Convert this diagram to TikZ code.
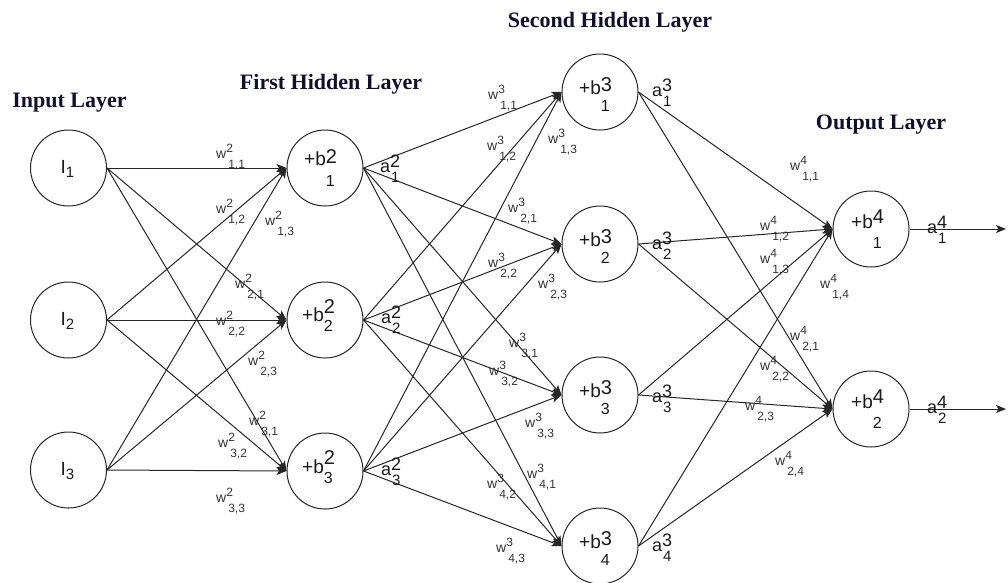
\documentclass[tikz,border=0pt]{standalone}
\usepackage{fontspec}
\setmainfont{Liberation Sans}
\newfontfamily\titlefont{Liberation Serif}
\usetikzlibrary{arrows.meta}
\definecolor{linec}{HTML}{262626}
\definecolor{textc}{HTML}{1A1A1A}
\definecolor{wc}{HTML}{333333}
\definecolor{titlec}{HTML}{10102A}
\newcommand\fs[1]{\fontsize{#1}{#1}\selectfont}
\newcommand\SupSub[5]{%
  \setbox0=\hbox{#1}\setbox2=\hbox{\kern#5\relax #2}%
  \dimen0=\wd0 \ifdim\wd2>\dimen0 \dimen0=\wd2 \fi
  \rlap{\raisebox{#3}{\box0}}\rlap{\raisebox{-#4}{\box2}}\kern\dimen0 }
\newcommand\btxt[4]{\fs{19}+b\SupSub{\fs{20}#1}{\fs{16}#2}{#3pt}{#4pt}{0pt}}
\newcommand\wtxt[2]{\fs{14}w\SupSub{\fs{12}#1}{\fs{12}#2}{6pt}{10pt}{2pt}}
\newcommand\atxt[2]{\fs{18}a\SupSub{\fs{18}#1}{\fs{15}#2}{5pt}{10pt}{1pt}}
\newcommand\itxt[1]{\fs{19}I\SupSub{}{\fs{15}#1}{0pt}{4pt}{0pt}}
\begin{document}
\begin{tikzpicture}[x=1pt,y=-1pt,
  neuron/.style={circle,draw=linec,line width=1pt,minimum size=76pt,inner sep=0pt},
  conn/.style={draw=linec,line width=1pt,-{Stealth[length=10pt,width=8pt,inset=2.5pt]}},
  lab/.style={anchor=base west,inner sep=0pt,text=textc},
  wlab/.style={anchor=base west,inner sep=0pt,text=wc},
  title/.style={anchor=base,inner sep=0pt,font={\titlefont\bfseries\fs{22}},text=titlec}]
\useasboundingbox (0,0) rectangle (1008,582);

% titles
\node[title] (t1) at (69.5,107) {Input Layer};
\node[title] (t2) at (331,89) {First Hidden Layer};
\node[title] (t3) at (610,27) {Second Hidden Layer};
\node[title] (t4) at (881,129) {Output Layer};

% neurons
\node[neuron] (i1) at (68.5,168) {};
\node[neuron] (i2) at (68.5,320) {};
\node[neuron] (i3) at (68.5,470) {};
\node[neuron] (h1) at (325,168) {};
\node[neuron] (h2) at (325,320) {};
\node[neuron] (h3) at (325,471) {};
\node[neuron] (g1) at (600,92) {};
\node[neuron] (g2) at (600,244) {};
\node[neuron] (g3) at (600,395) {};
\node[neuron] (g4) at (600,546) {};
\node[neuron] (o1) at (871,229) {};
\node[neuron] (o2) at (871,409) {};
\coordinate (out1) at (1006,229);
\coordinate (out2) at (1006,409);

% neuron texts
\node[lab] (ti1) at ([shift={(-8,5)}]i1.center) {\itxt{1}};
\node[lab] (ti2) at ([shift={(-8,5)}]i2.center) {\itxt{2}};
\node[lab] (ti3) at ([shift={(-8,5)}]i3.center) {\itxt{3}};
\node[lab] (th1) at ([shift={(-21,-3)}]h1.center) {\btxt{2}{1}{2}{21}};
\node[lab] (th2) at ([shift={(-23,1)}]h2.center) {\btxt{2}{2}{8}{10}};
\node[lab] (th3) at ([shift={(-23,2)}]h3.center) {\btxt{2}{3}{9}{10}};
\node[lab] (tg1) at ([shift={(-21,2)}]g1.center) {\btxt{3}{1}{3}{17}};
\node[lab] (tg2) at ([shift={(-21,2)}]g2.center) {\btxt{3}{2}{3}{17}};
\node[lab] (tg3) at ([shift={(-21,2)}]g3.center) {\btxt{3}{3}{3}{17}};
\node[lab] (tg4) at ([shift={(-21,2)}]g4.center) {\btxt{3}{4}{3}{17}};
\node[lab] (to1) at ([shift={(-20,-1)}]o1.center) {\btxt{4}{1}{5}{20}};
\node[lab] (to2) at ([shift={(-20,-1)}]o2.center) {\btxt{4}{2}{5}{20}};

% connections
\foreach \s in {1,2,3} \foreach \t in {1,2,3} \draw[conn] (i\s.east) -- (h\t.west);
\foreach \s in {1,2,3} \foreach \t in {1,2,3,4} \draw[conn] (h\s.east) -- (g\t.west);
\foreach \s in {1,2,3,4} \foreach \t in {1,2} \draw[conn] (g\s.east) -- (o\t.west);
\draw[conn] (o1.east) -- (out1);
\draw[conn] (o2.east) -- (out2);

% activation labels
\node[lab] (a21) at (380,172) {\atxt{2}{1}};
\node[lab] (a22) at (381,323) {\atxt{2}{2}};
\node[lab] (a23) at (381,475) {\atxt{2}{3}};
\node[lab] (a31) at (652,96) {\atxt{3}{1}};
\node[lab] (a32) at (652,249) {\atxt{3}{2}};
\node[lab] (a33) at (652,402) {\atxt{3}{3}};
\node[lab] (a34) at (652,551) {\atxt{3}{4}};
\node[lab] (a41) at (927,233) {\atxt{4}{1}};
\node[lab] (a42) at (927,413) {\atxt{4}{2}};

% weight labels, layer 2
\node[wlab] (w211) at (216,158) {\wtxt{2}{1,1}};
\node[wlab] (w212) at (216,213) {\wtxt{2}{1,2}};
\node[wlab] (w213) at (265,225) {\wtxt{2}{1,3}};
\node[wlab] (w221) at (235,288) {\wtxt{2}{2,1}};
\node[wlab] (w222) at (216,325) {\wtxt{2}{2,2}};
\node[wlab] (w223) at (248,365) {\wtxt{2}{2,3}};
\node[wlab] (w231) at (249,425) {\wtxt{2}{3,1}};
\node[wlab] (w232) at (218,447) {\wtxt{2}{3,2}};
\node[wlab] (w233) at (216,502) {\wtxt{2}{3,3}};
% layer 3
\node[wlab] (w311) at (488,99) {\wtxt{3}{1,1}};
\node[wlab] (w312) at (487,150) {\wtxt{3}{1,2}};
\node[wlab] (w313) at (548,143) {\wtxt{3}{1,3}};
\node[wlab] (w321) at (508,212) {\wtxt{3}{2,1}};
\node[wlab] (w322) at (488,267) {\wtxt{3}{2,2}};
\node[wlab] (w323) at (538,288) {\wtxt{3}{2,3}};
\node[wlab] (w331) at (509,347) {\wtxt{3}{3,1}};
\node[wlab] (w332) at (489,375) {\wtxt{3}{3,2}};
\node[wlab] (w333) at (525,427) {\wtxt{3}{3,3}};
\node[wlab] (w341) at (527,478) {\wtxt{3}{4,1}};
\node[wlab] (w342) at (487,488) {\wtxt{3}{4,2}};
\node[wlab] (w343) at (496,552) {\wtxt{3}{4,3}};
% layer 4
\node[wlab] (w411) at (790,170) {\wtxt{4}{1,1}};
\node[wlab] (w412) at (760,230) {\wtxt{4}{1,2}};
\node[wlab] (w413) at (760,263) {\wtxt{4}{1,3}};
\node[wlab] (w414) at (820,288) {\wtxt{4}{1,4}};
\node[wlab] (w421) at (790,340) {\wtxt{4}{2,1}};
\node[wlab] (w422) at (760,370) {\wtxt{4}{2,2}};
\node[wlab] (w423) at (745,410) {\wtxt{4}{2,3}};
\node[wlab] (w424) at (775,465) {\wtxt{4}{2,4}};
\end{tikzpicture}
\end{document}
